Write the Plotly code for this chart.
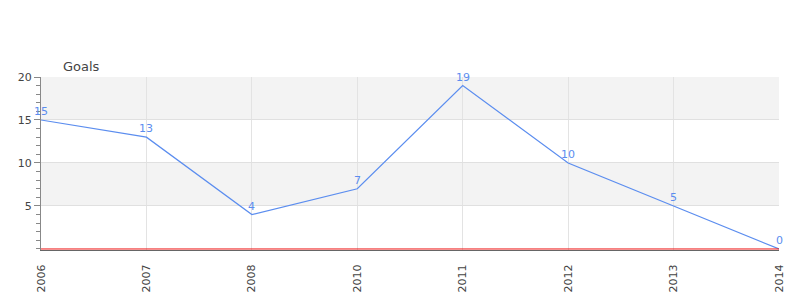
import plotly.graph_objects as go

years = ["2006", "2007", "2008", "2010", "2011", "2012", "2013", "2014"]
goals = [15, 13, 4, 7, 19, 10, 5, 0]
y_ticks = [5, 10, 15, 20]
series_name = "Goals"

line_color = "#5b8def"
fig = go.Figure()
fig.add_trace(go.Scatter(
    x=years, y=goals, mode="lines",
    line=dict(color=line_color, width=1.2), cliponaxis=False, showlegend=False,
    hoverinfo="x+y"))

for i, yv in enumerate(goals):
    fig.add_annotation(x=i, y=yv, text=str(yv), showarrow=False, yanchor="bottom",
                       yshift=0, font=dict(color=line_color, size=11))

# alternating bands
for y0, y1 in [(15, 20), (5, 10)]:
    fig.add_shape(type="rect", xref="paper", x0=0, x1=1, yref="y", y0=y0, y1=y1,
                  fillcolor="#f3f3f3", line_width=0, layer="below")
# red baseline
fig.add_shape(type="line", xref="paper", x0=0, x1=1, yref="y", y0=0, y1=0,
              line=dict(color="#ee1111", width=1), layer="above")

fig.add_annotation(text=series_name, xref="paper", yref="paper", x=20/738, y=1,
                   xanchor="left", yanchor="bottom", yshift=1, showarrow=False,
                   font=dict(size=13, color="#444"))

fig.update_layout(
    width=800, height=300, margin=dict(l=41, r=21, t=77, b=50),
    plot_bgcolor="white", paper_bgcolor="white",
    font=dict(family="DejaVu Sans", size=11, color="#444"),
    xaxis=dict(type="category", range=[0, 7], tickangle=-90, showgrid=True,
               gridcolor="#e3e3e3", showline=True, linecolor="#666", linewidth=1,
               ticks="outside", ticklen=9, tickcolor="rgba(0,0,0,0)", zeroline=False,
               automargin=False, tickfont=dict(size=11, color="#444")),
    yaxis=dict(range=[-0.12, 20], tickvals=y_ticks, showgrid=True, gridcolor="#e0e0e0",
               showline=True, linecolor="#888", linewidth=1, ticks="outside",
               ticklen=6, tickcolor="#888", zeroline=False, automargin=False,
               minor=dict(dtick=1, ticks="outside", ticklen=4, tickcolor="#888", showgrid=False),
               tickfont=dict(size=11, color="#444")),
)
fig.write_html("out.html")
